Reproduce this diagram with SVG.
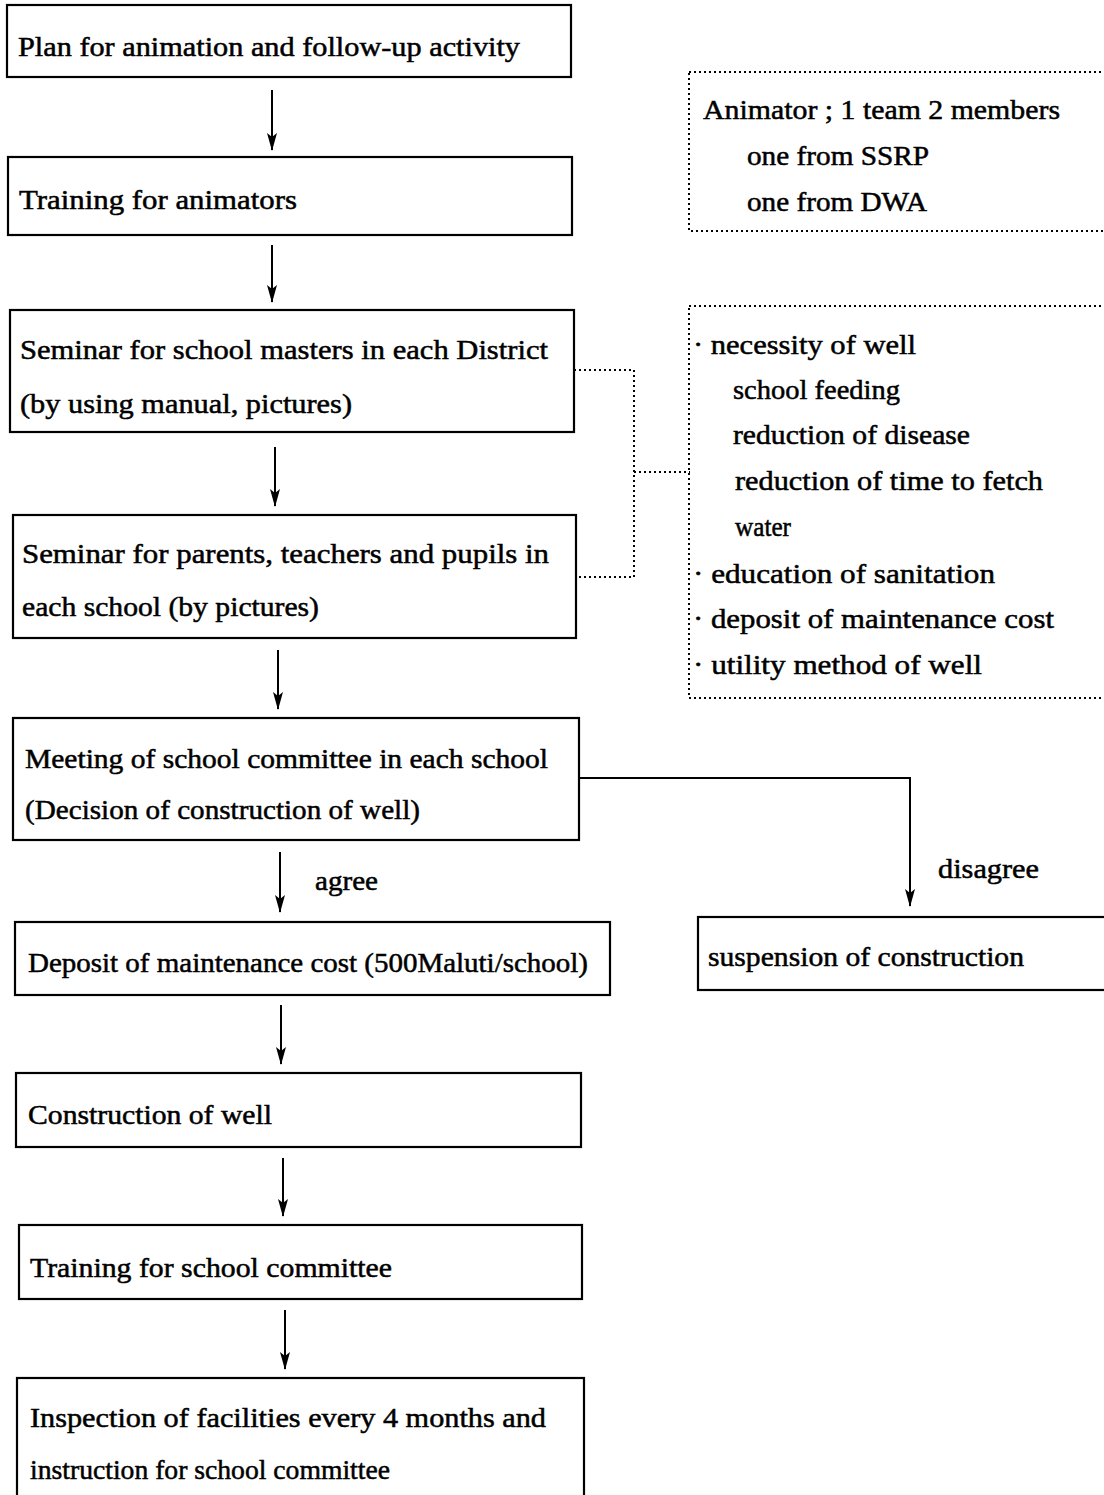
<svg xmlns="http://www.w3.org/2000/svg" width="1104" height="1495" viewBox="0 0 1104 1495">
<style>
.box{fill:none;stroke:#000;stroke-width:2.2}
.dot{fill:none;stroke:#000;stroke-width:2;stroke-dasharray:2 3}
.ln{fill:none;stroke:#000;stroke-width:2}
text{font-family:"Liberation Serif","DejaVu Serif",serif;font-size:27px;fill:#000;stroke:#000;stroke-width:0.5}
</style>
<defs>
<marker id="ah" markerWidth="18" markerHeight="10" refX="17" refY="5" orient="auto" markerUnits="userSpaceOnUse" viewBox="0 0 18 10">
<path d="M0,0 L18,5 L0,10 L4,5 Z" fill="#000"/>
</marker>
</defs>
<rect width="1104" height="1495" fill="#fff"/>
<g id="connectors">
<line class="ln" x1="272" y1="90" x2="272" y2="150" marker-end="url(#ah)"/>
<line class="ln" x1="272" y1="245" x2="272" y2="302" marker-end="url(#ah)"/>
<line class="ln" x1="275" y1="447" x2="275" y2="506" marker-end="url(#ah)"/>
<line class="ln" x1="278" y1="650" x2="278" y2="709" marker-end="url(#ah)"/>
<line class="ln" x1="280" y1="852" x2="280" y2="912" marker-end="url(#ah)"/>
<line class="ln" x1="281" y1="1005" x2="281" y2="1064" marker-end="url(#ah)"/>
<line class="ln" x1="283" y1="1158" x2="283" y2="1216" marker-end="url(#ah)"/>
<line class="ln" x1="285" y1="1310" x2="285" y2="1369" marker-end="url(#ah)"/>
<polyline class="ln" points="579,778 910,778 910,906" marker-end="url(#ah)"/>
<polyline class="dot" points="574,370 634,370 634,577 576,577"/>
<line class="dot" x1="634" y1="472" x2="690" y2="472"/>
<text x="315" y="890" textLength="63" lengthAdjust="spacingAndGlyphs">agree</text>
<text x="938" y="878" textLength="101" lengthAdjust="spacingAndGlyphs">disagree</text>
</g>
<g id="n1"><rect class="box" x="7" y="5" width="564" height="72"/><text x="18" y="56" textLength="502" lengthAdjust="spacingAndGlyphs">Plan for animation and follow-up activity</text></g>
<g id="n2"><rect class="box" x="8" y="157" width="564" height="78"/><text x="19" y="209" textLength="278" lengthAdjust="spacingAndGlyphs">Training for animators</text></g>
<g id="n3"><rect class="box" x="10" y="310" width="564" height="122"/><text x="20" y="359" textLength="528" lengthAdjust="spacingAndGlyphs">Seminar for school masters in each District</text><text x="20" y="413" textLength="332" lengthAdjust="spacingAndGlyphs">(by using manual, pictures)</text></g>
<g id="n4"><rect class="box" x="13" y="515" width="563" height="123"/><text x="22" y="563" textLength="527" lengthAdjust="spacingAndGlyphs">Seminar for parents, teachers and pupils in</text><text x="22" y="616" textLength="297" lengthAdjust="spacingAndGlyphs">each school (by pictures)</text></g>
<g id="n5"><rect class="box" x="13" y="718" width="566" height="122"/><text x="25" y="768" textLength="523" lengthAdjust="spacingAndGlyphs">Meeting of school committee in each school</text><text x="25" y="819" textLength="395" lengthAdjust="spacingAndGlyphs">(Decision of construction of well)</text></g>
<g id="n6"><rect class="box" x="15" y="922" width="595" height="73"/><text x="28" y="972" textLength="560" lengthAdjust="spacingAndGlyphs">Deposit of maintenance cost (500Maluti/school)</text></g>
<g id="n7"><rect class="box" x="698" y="917" width="420" height="73"/><text x="708" y="966" textLength="316" lengthAdjust="spacingAndGlyphs">suspension of construction</text></g>
<g id="n8"><rect class="box" x="16" y="1073" width="565" height="74"/><text x="28" y="1124" textLength="244" lengthAdjust="spacingAndGlyphs">Construction of well</text></g>
<g id="n9"><rect class="box" x="19" y="1225" width="563" height="74"/><text x="30" y="1277" textLength="362" lengthAdjust="spacingAndGlyphs">Training for school committee</text></g>
<g id="n10"><rect class="box" x="17" y="1378" width="567" height="140"/><text x="30" y="1427" textLength="516" lengthAdjust="spacingAndGlyphs">Inspection of facilities every 4 months and</text><text x="30" y="1479" textLength="360" lengthAdjust="spacingAndGlyphs">instruction for school committee</text></g>
<g id="note1"><rect class="dot" x="689" y="72" width="430" height="159"/>
<text x="703" y="119" textLength="357" lengthAdjust="spacingAndGlyphs">Animator ; 1 team 2 members</text>
<text x="747" y="165" textLength="182" lengthAdjust="spacingAndGlyphs">one from SSRP</text>
<text x="747" y="211" textLength="180" lengthAdjust="spacingAndGlyphs">one from DWA</text></g>
<g id="note2"><rect class="dot" x="689" y="306" width="430" height="392"/>
<text x="693" y="354" textLength="223" lengthAdjust="spacingAndGlyphs">· necessity of well</text>
<text x="733" y="399" textLength="167" lengthAdjust="spacingAndGlyphs">school feeding</text>
<text x="733" y="444" textLength="237" lengthAdjust="spacingAndGlyphs">reduction of disease</text>
<text x="735" y="490" textLength="308" lengthAdjust="spacingAndGlyphs">reduction of time to fetch</text>
<text x="735" y="536" textLength="56" lengthAdjust="spacingAndGlyphs">water</text>
<text x="693" y="583" textLength="302" lengthAdjust="spacingAndGlyphs">· education of sanitation</text>
<text x="693" y="628" textLength="361" lengthAdjust="spacingAndGlyphs">· deposit of maintenance cost</text>
<text x="693" y="674" textLength="289" lengthAdjust="spacingAndGlyphs">· utility method of well</text></g>
</svg>
